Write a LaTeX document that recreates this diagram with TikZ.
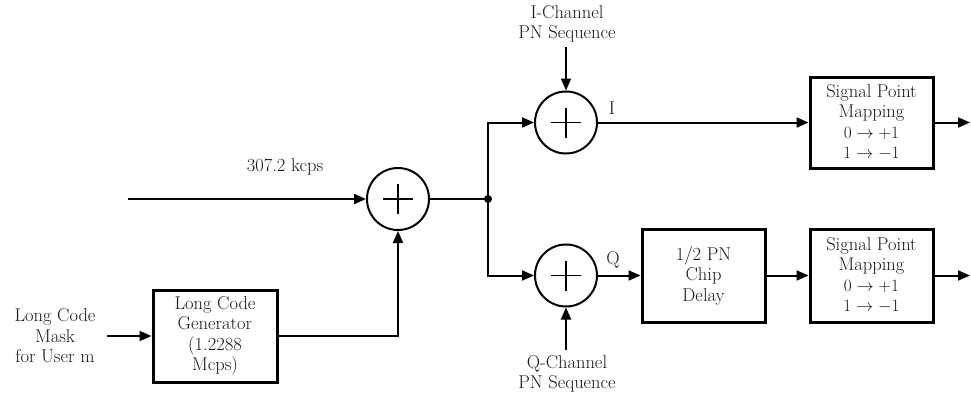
\documentclass[tikz,border=0pt]{standalone}
\usetikzlibrary{arrows.meta}
\begin{document}
\begin{tikzpicture}[x=1pt,y=-1pt,
  txt/.style={align=center,inner sep=0pt,text=black!90,font=\fontsize{18.5}{20.5}\selectfont},
  blk/.style={txt,draw=black,line width=3pt,minimum width=123pt,minimum height=92pt},
  adder/.style={circle,draw=black,line width=2pt,minimum size=62pt,inner sep=0pt,
    path picture={\draw[line width=1.8pt] (path picture bounding box.center) +(-15,0) -- +(15,0)
      (path picture bounding box.center) +(0,-15) -- +(0,15);}},
  conn/.style={line width=2pt},
  arr/.style={conn,-{Triangle[length=12pt,width=10pt]}}]
\useasboundingbox (0,0) rectangle (971,396);
% nodes
\node[txt] (mask) at (55,336) {Long Code\\Mask\\for User m};
\node[blk,minimum width=124pt] (lcg) at (215,336) {Long Code\\Generator\\(1.2288\\Mcps)};
\node[adder] (add) at (398,199) {};
\node[txt] (rate) at (285,167) {307.2 kcps};
\node[adder] (addI) at (566,122.5) {};
\node[adder] (addQ) at (566,275.5) {};
\node[txt] (ich) at (567,24) {I-Channel\\PN Sequence};
\node[txt] (qch) at (567,374) {Q-Channel\\PN Sequence};
\node[txt] (ilab) at (612,108) {I};
\node[txt] (qlab) at (613,260) {Q};
\node[blk,minimum height=93pt] (delay) at (703.5,275.5) {1/2 PN\\Chip\\Delay};
\node[blk,minimum height=91pt] (spm1) at (871.5,122.5) {Signal Point\\Mapping\\$0\to+1$\\$1\to-1$};
\node[blk,minimum height=93pt] (spm2) at (871.5,275.5) {Signal Point\\Mapping\\$0\to+1$\\$1\to-1$};
% free ends
\coordinate (maskout) at (107,336);
\coordinate (in) at (128,199);
\coordinate (j) at (488,199);
\coordinate (ichout) at (566,47);
\coordinate (qchout) at (566,350);
\coordinate (out1) at (970,122.5);
\coordinate (out2) at (970,275.5);
% connectors
\draw[arr] (maskout) -- (lcg.west);
\draw[arr] (lcg.east) -| (add.south);
\draw[arr] (in) -- (add.west);
\draw[conn] (add.east) -- (j);
\fill (j) circle (4pt);
\draw[arr] (j) |- (addI.west);
\draw[arr] (j) |- (addQ.west);
\draw[arr] (ichout) -- (addI.north);
\draw[arr] (qchout) -- (addQ.south);
\draw[arr] (addI.east) -- (spm1.west);
\draw[arr] (addQ.east) -- (delay.west);
\draw[arr] (delay.east) -- (spm2.west);
\draw[arr] (spm1.east) -- (out1);
\draw[arr] (spm2.east) -- (out2);
\end{tikzpicture}
\end{document}
